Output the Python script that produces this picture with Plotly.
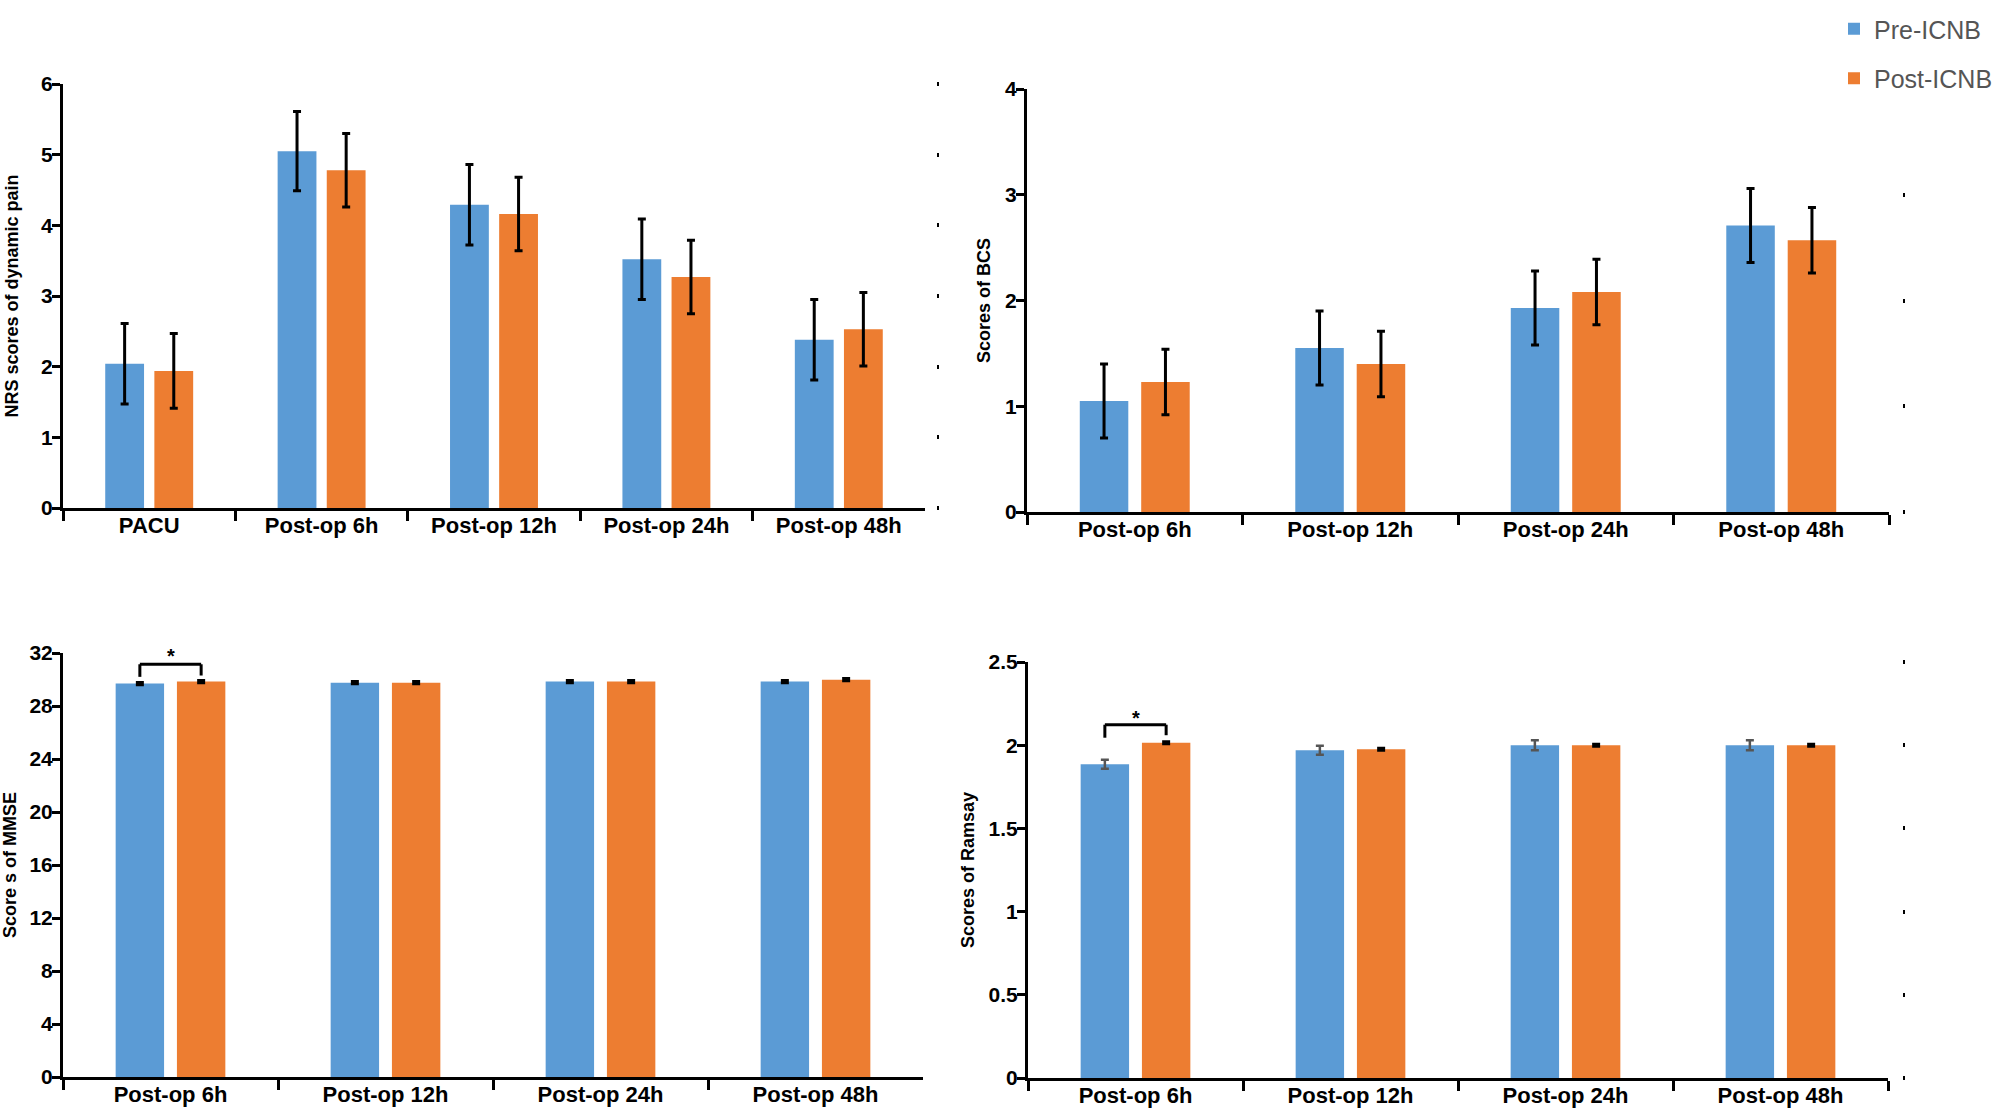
import plotly.graph_objects as go

# ---------------- data ----------------
cats_nrs = ["PACU", "Post-op 6h", "Post-op 12h", "Post-op 24h", "Post-op 48h"]
nrs_pre = [2.04, 5.05, 4.29, 3.52, 2.38]
nrs_pre_err = [0.57, 0.56, 0.57, 0.57, 0.57]
nrs_post = [1.94, 4.78, 4.16, 3.27, 2.53]
nrs_post_err = [0.53, 0.52, 0.52, 0.52, 0.52]

cats_post = ["Post-op 6h", "Post-op 12h", "Post-op 24h", "Post-op 48h"]
bcs_pre = [1.05, 1.55, 1.93, 2.71]
bcs_pre_err = [0.35, 0.35, 0.35, 0.35]
bcs_post = [1.23, 1.40, 2.08, 2.57]
bcs_post_err = [0.31, 0.31, 0.31, 0.31]

mmse_pre = [29.69, 29.76, 29.84, 29.84]
mmse_pre_err = [0.08, 0.08, 0.08, 0.08]
mmse_post = [29.84, 29.76, 29.84, 29.99]
mmse_post_err = [0.08, 0.08, 0.08, 0.08]

ramsay_pre = [1.885, 1.969, 2.00, 2.00]
ramsay_pre_err = [0.027, 0.027, 0.03, 0.03]
ramsay_post = [2.015, 1.975, 2.00, 2.00]
ramsay_post_err = [0.006, 0.006, 0.006, 0.006]

nrs_ticks = [0, 1, 2, 3, 4, 5, 6]
bcs_ticks = [0, 1, 2, 3, 4]
mmse_ticks = [0, 4, 8, 12, 16, 20, 24, 28, 32]
ramsay_ticks = [0, 0.5, 1, 1.5, 2, 2.5]

series_names = ["Pre-ICNB", "Post-ICNB"]

# significance brackets: (category index, bracket level, left leg bottom, right leg bottom, star level)
mmse_sig = [0, 31.15, 30.2, 30.3, 31.75]
ramsay_sig = [0, 2.123, 2.045, 2.06, 2.165]

# ---------------- style ----------------
BLUE = "#5B9BD5"
ORANGE = "#ED7D31"
W, H = 2008, 1111
BARGAP = 0.43
BARGROUPGAP = 0.21
FONT = "Liberation Sans, Arial, Helvetica, sans-serif"


def px_x(v):
    return v / W


def px_y(v):
    return 1 - v / H


fig = go.Figure()


def add_pair(cats, pre, pre_err, post, post_err, xa, ya, showlegend, pre_err_color="black",
             pre_thick=3):
    fig.add_trace(go.Bar(
        x=cats, y=pre, name=series_names[0], marker_color=BLUE, marker_line_width=0,
        error_y=dict(type="data", array=pre_err, visible=True, color=pre_err_color,
                     thickness=pre_thick, width=4),
        xaxis=xa, yaxis=ya, showlegend=showlegend, legendgroup="pre"))
    fig.add_trace(go.Bar(
        x=cats, y=post, name=series_names[1], marker_color=ORANGE, marker_line_width=0,
        error_y=dict(type="data", array=post_err, visible=True, color="black",
                     thickness=3, width=4),
        xaxis=xa, yaxis=ya, showlegend=showlegend, legendgroup="post"))


add_pair(cats_nrs, nrs_pre, nrs_pre_err, nrs_post, nrs_post_err, "x", "y", True)
add_pair(cats_post, bcs_pre, bcs_pre_err, bcs_post, bcs_post_err, "x2", "y2", False)
add_pair(cats_post, mmse_pre, mmse_pre_err, mmse_post, mmse_post_err, "x3", "y3", False)
add_pair(cats_post, ramsay_pre, ramsay_pre_err, ramsay_post, ramsay_post_err, "x4", "y4", False,
         pre_err_color="#555555", pre_thick=2.5)

# empty traces for the stray right-hand tick columns
for xa, ya in [("x", "y5"), ("x2", "y6"), ("x4", "y7")]:
    fig.add_trace(go.Scatter(x=[], y=[], xaxis=xa, yaxis=ya, showlegend=False, hoverinfo="skip"))

ytickfont = dict(family=FONT, size=21, color="black", weight="bold")
xtickfont = dict(family=FONT, size=22, color="black", weight="bold")
titlefont = dict(family=FONT, size=18, color="black", weight="bold")


def xaxis(domain, anchor):
    return dict(domain=domain, anchor=anchor, type="category", showline=True, linecolor="black",
                linewidth=3, ticks="outside", tickson="boundaries", ticklen=10, tickwidth=3,
                tickcolor="black", tickfont=xtickfont, showgrid=False, zeroline=False,
                fixedrange=True, automargin=False, ticklabelstandoff=-4)


def yaxis(domain, anchor, rng, tickvals, title, standoff):
    return dict(domain=domain, anchor=anchor, range=rng, tickvals=tickvals, showline=True,
                linecolor="black", linewidth=3, ticks="outside", ticklen=8, tickwidth=3,
                tickcolor="black", tickfont=ytickfont, showgrid=False, zeroline=False,
                title=dict(text=title, font=titlefont, standoff=standoff),
                ticklabelstandoff=-5, automargin=False)


def ghost_axis(overlay, rng, tickvals, pos):
    return dict(overlaying=overlay, anchor="free", position=pos, side="right", range=rng,
                tickvals=tickvals, showticklabels=False, ticks="outside", ticklen=2, tickwidth=4,
                tickcolor="black", showline=False, showgrid=False, zeroline=False,
                automargin=False)


fig.update_layout(
    width=W, height=H,
    margin=dict(l=0, r=0, t=0, b=0, autoexpand=False),
    paper_bgcolor="white", plot_bgcolor="white",
    barmode="group", bargap=BARGAP, bargroupgap=BARGROUPGAP,
    xaxis=xaxis([px_x(63), px_x(925)], "y"),
    yaxis=yaxis([px_y(508), px_y(84)], "x", [0, 6], nrs_ticks, "NRS scores of dynamic pain", 18),
    xaxis2=xaxis([px_x(1027), px_x(1889)], "y2"),
    yaxis2=yaxis([px_y(512), px_y(89)], "x2", [0, 4], bcs_ticks, "Scores of BCS", 10),
    xaxis3=xaxis([px_x(63), px_x(923)], "y3"),
    yaxis3=yaxis([px_y(1077), px_y(653)], "x3", [0, 32], mmse_ticks, "Score s of MMSE", 15),
    xaxis4=xaxis([px_x(1028), px_x(1888)], "y4"),
    yaxis4=yaxis([px_y(1078), px_y(662)], "x4", [0, 2.5], ramsay_ticks, "Scores of Ramsay", 10),
    yaxis5=ghost_axis("y", [0, 6], nrs_ticks, px_x(936)),
    yaxis6=ghost_axis("y2", [0, 4], bcs_ticks[:-1], px_x(1902)),
    yaxis7=ghost_axis("y4", [0, 2.5], ramsay_ticks, px_x(1902)),
    legend=dict(x=px_x(1834), y=px_y(6), xanchor="left", yanchor="top",
                font=dict(family=FONT, size=25, color="#555555"),
                tracegroupgap=14, bgcolor="rgba(0,0,0,0)", traceorder="grouped"),
    showlegend=True,
)

# significance brackets (positions derived from bar layout in category units)
half = (1 - BARGAP) / 4
for sig, xa, ya in [(mmse_sig, "x3", "y3"), (ramsay_sig, "x4", "y4")]:
    i, level, lbot, rbot, star = sig
    xl, xr = i - half, i + half
    line = dict(color="black", width=3)
    fig.add_shape(type="line", xref=xa, yref=ya, x0=xl, x1=xl, y0=lbot, y1=level, line=line)
    fig.add_shape(type="line", xref=xa, yref=ya, x0=xl, x1=xr, y0=level, y1=level, line=line)
    fig.add_shape(type="line", xref=xa, yref=ya, x0=xr, x1=xr, y0=rbot, y1=level, line=line)
    fig.add_annotation(x=i, y=star, xref=xa, yref=ya, text="*", showarrow=False,
                       font=dict(family=FONT, size=20, color="black", weight="bold"))

fig.write_html(
    "out.html",
    config={"displayModeBar": False},
    post_script="document.body.style.margin='0';document.body.style.overflow='hidden';",
)
